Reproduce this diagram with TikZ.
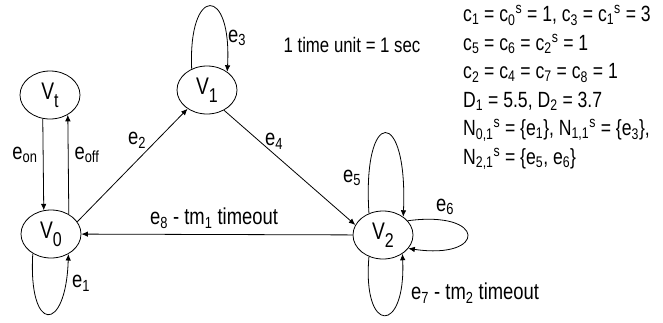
\documentclass[tikz,border=0pt]{standalone}
\usepackage{fontspec}
\setmainfont{Liberation Sans}[FakeStretch=0.8]
\usetikzlibrary{shapes.geometric,arrows.meta}
\newcommand{\statelbl}[1]{V\lower8pt\hbox{\fontsize{20}{20}\selectfont #1}}
\newcommand{\subs}[1]{\textsubscript{#1}}
\newcommand{\sups}[1]{\textsuperscript{#1}}

\begin{document}
\begin{tikzpicture}[x=1pt,y=-1pt,
  vstate/.style={draw,ellipse,minimum width=60pt,minimum height=48pt,inner sep=0pt,line width=0.8pt,font=\fontsize{24}{24}\selectfont},
  trans/.style={line width=0.8pt,-{Latex[length=6.5pt,width=5.5pt]}},
  elabel/.style={font=\fontsize{23}{23}\selectfont,inner sep=0pt},
  info/.style={font=\fontsize{22}{22}\selectfont,inner sep=0pt,anchor=base west}]
  \useasboundingbox (0,0) rectangle (663,322);
  % states
  \node[vstate] (vt) at (50,95) {\statelbl{t}};
  \node[vstate] (v0) at (51,234) {\statelbl{0}};
  \node[vstate] (v1) at (207,90) {\statelbl{1}};
  \node[vstate] (v2) at (383,235) {\statelbl{2}};
  % transitions
  \draw[trans] (vt.253) -- (v0.107);
  \draw[trans] (v0.48) -- (vt.-48);
  \draw[trans] (v0.25) -- (v1.224);
  \draw[trans] (v1.-50) -- (v2.160);
  \draw[trans] (v2) -- (v0);
  \draw[trans] (v0.227) .. controls (28,334) and (66,334) .. (v0.-49);
  \draw[trans] (v1.126) .. controls (188,-15) and (232,-15) .. (v1.42);
  \draw[trans] (v2.123) .. controls (362,106) and (408,106) .. (v2.42);
  \draw[trans] (v2.30) .. controls (487,210) and (487,260) .. (v2.-28);
  \draw[trans] (v2.-123) .. controls (362,335) and (406,335) .. (v2.-44);
  % labels
  \node[elabel] (lon) at (25,155) {e\subs{on}};
  \node[elabel] (loff) at (87,155) {e\subs{off}};
  \node[elabel] (l1) at (81,283) {e\subs{1}};
  \node[elabel] (l2) at (137,140) {e\subs{2}};
  \node[elabel] (l3) at (237,38) {e\subs{3}};
  \node[elabel] (l4) at (274,141) {e\subs{4}};
  \node[elabel] (l5) at (352,178) {e\subs{5}};
  \node[elabel] (l6) at (445,207) {e\subs{6}};
  \node[elabel,anchor=west] (l7) at (411,293) {e\subs{7} - tm\subs{2} timeout};
  \node[elabel] (l8) at (214,218) {e\subs{8} - tm\subs{1} timeout};
  \node[font=\fontsize{21}{21}\selectfont,inner sep=0pt] (unit) at (352,45) {1 time unit = 1 sec};
  \foreach \infoline [count=\k from 0] in {
    {c\subs{1} = c\subs{0}\sups{s} = 1, c\subs{3} = c\subs{1}\sups{s} = 3},
    {c\subs{5} = c\subs{6} = c\subs{2}\sups{s} = 1},
    {c\subs{2} = c\subs{4} = c\subs{7} = c\subs{8} = 1},
    {D\subs{1} = 5.5, D\subs{2} = 3.7},
    {N\subs{0,1}\sups{s} = \{e\subs{1}\}, N\subs{1,1}\sups{s} = \{e\subs{3}\},},
    {N\subs{2,1}\sups{s} = \{e\subs{5}, e\subs{6}\}}}{
    \node[info] (info\k) at (463,{21.5+28.5*\k}) {\infoline};
  }
\end{tikzpicture}
\end{document}
